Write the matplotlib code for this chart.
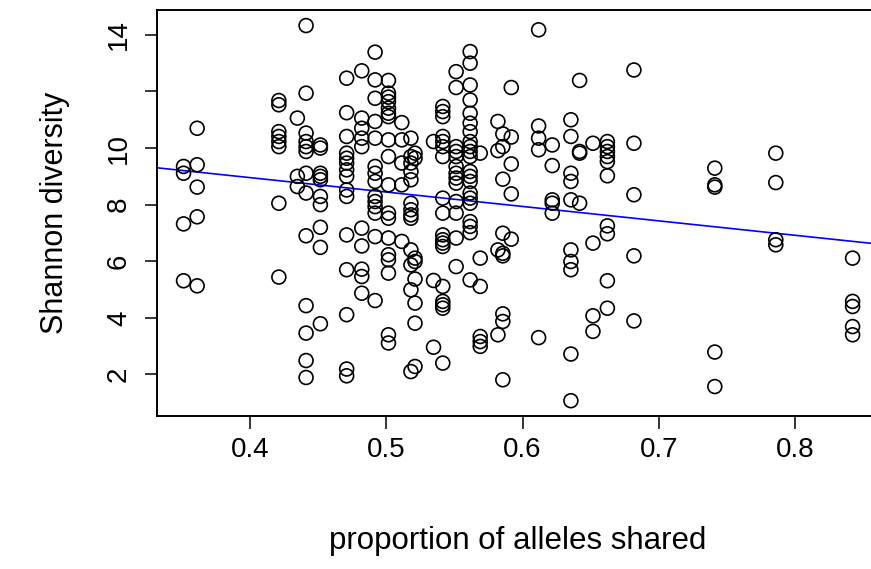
import numpy as np
import matplotlib
matplotlib.use("Agg")
import matplotlib.pyplot as plt

plt.rcParams['font.family'] = ['Liberation Sans', 'DejaVu Sans']

# ---------- data: proportion of alleles shared (columns) and Shannon diversity ----------
shared = [0.351, 0.361, 0.421, 0.4346, 0.441, 0.4515, 0.4708, 0.4819, 0.4917,
          0.5015, 0.5113, 0.518, 0.521, 0.5346, 0.5414, 0.5512, 0.5615, 0.5689,
          0.5819, 0.5855, 0.5917, 0.6118, 0.6218, 0.6355, 0.6419, 0.6517,
          0.6623, 0.6818, 0.7412, 0.786, 0.8424]

diversity = [
    [9.35, 9.11, 7.32, 5.31],
    [10.70, 9.41, 8.62, 7.57, 5.13],
    [11.68, 11.53, 10.58, 10.41, 10.23, 10.05, 8.05, 5.44],
    [11.06, 9.0, 8.64],
    [14.33, 11.94, 10.53, 10.23, 10.05, 9.88, 9.11, 8.41, 6.90, 4.43, 3.46, 2.49, 1.89],
    [10.11, 10.0, 9.11, 9.0, 8.88, 8.29, 8.0, 7.2, 6.49, 3.79],
    [12.47, 11.25, 10.41, 9.82, 9.64, 9.47, 9.23, 9.0, 8.52, 8.29, 6.93, 5.70, 4.11, 2.19, 1.95],
    [12.73, 11.06, 10.70, 10.35, 10.05, 7.17, 6.54, 5.72, 5.46, 4.87],
    [13.39, 12.41, 11.76, 10.94, 10.35, 9.35, 9.11, 8.82, 8.29, 8.11, 7.93, 7.70, 6.87, 4.61],
    [12.39, 11.94, 11.80, 11.64, 11.41, 11.23, 11.11, 10.29, 9.70, 8.70, 7.70, 7.52,
     6.82, 6.23, 6.05, 5.58, 3.40, 3.11],
    [10.90, 10.29, 9.47, 8.70, 6.70],
    [10.35, 9.70, 9.47, 9.17, 8.88, 8.05, 7.82, 7.64, 7.52, 6.40, 5.87, 4.99, 2.10],
    [9.82, 9.64, 6.11, 5.99, 5.37, 4.52, 3.81, 2.28],
    [10.23, 5.32, 2.96],
    [11.47, 11.29, 11.11, 10.41, 10.23, 10.05, 9.70, 8.23, 7.70, 6.93, 6.76, 6.64,
     6.52, 5.11, 4.58, 4.46, 4.34, 2.40],
    [12.70, 12.14, 10.05, 9.88, 9.70, 9.35, 9.11, 8.94, 8.76, 8.11, 7.70, 6.82, 5.81],
    [13.41, 13.0, 12.23, 11.70, 11.23, 10.88, 10.58, 10.23, 10.05, 9.88, 9.70, 9.17,
     9.0, 8.82, 8.41, 8.23, 8.05, 7.40, 7.23, 7.01, 5.34],
    [9.82, 6.11, 5.11, 3.34, 3.16, 2.99],
    [10.94, 9.91, 6.40, 3.40],
    [10.50, 10.05, 8.90, 6.99, 6.28, 6.19, 4.14, 3.87, 1.81],
    [12.14, 10.39, 9.44, 8.38, 6.78],
    [14.18, 10.78, 10.35, 9.94, 3.30],
    [10.11, 9.38, 8.17, 8.05, 7.70],
    [11.0, 10.41, 9.11, 8.82, 8.17, 6.40, 5.99, 5.70, 2.72, 1.07],
    [12.39, 9.88, 9.82, 8.05],
    [10.17, 6.64, 4.07, 3.52],
    [10.23, 10.05, 9.88, 9.70, 9.52, 9.02, 7.25, 6.97, 5.31, 4.34],
    [12.76, 10.17, 8.35, 6.19, 3.89],
    [9.29, 8.70, 8.62, 2.79, 1.57],
    [9.82, 8.78, 6.76, 6.58],
    [6.11, 4.58, 4.40, 3.69, 3.40],
]

# fitted line
fit_intercept = 10.99
fit_slope = -5.09

x_ticks = [0.4, 0.5, 0.6, 0.7, 0.8]
y_ticks = [2, 4, 6, 8, 10, 12, 14]
y_ticklabels = ['2', '4', '6', '8', '10', '', '14']

x = np.concatenate([[s] * len(d) for s, d in zip(shared, diversity)])
y = np.concatenate(diversity)

# ---------- plot ----------
fig = plt.figure(figsize=(8.71, 5.69), dpi=100)
ax = fig.add_axes([157 / 871, 1 - 415.7 / 569, 722 / 871, 405.7 / 569])

ax.scatter(x, y, s=100, facecolors='none', edgecolors='black', linewidths=1.2, zorder=3)
ax.axline((0, fit_intercept), slope=fit_slope, color='blue', lw=1.2, zorder=2)

ax.set_xlim(0.3315, 0.8618)
ax.set_ylim(0.54, 14.88)

ax.set_xticks(x_ticks)
ax.set_xticklabels([f'{t:.1f}' for t in x_ticks])
ax.set_yticks(y_ticks)
ax.set_yticklabels(y_ticklabels, rotation=90, va='center')

ax.tick_params(axis='both', direction='out', length=9, width=1.1, labelsize=20, colors='black')
ax.tick_params(axis='x', pad=6)
ax.tick_params(axis='y', pad=9)

for side in ['left', 'bottom', 'top', 'right']:
    ax.spines[side].set_linewidth(1.4)

ax.set_xlabel('proportion of alleles shared', fontsize=22.5)
ax.set_ylabel('Shannon diversity', fontsize=22)
ax.xaxis.label.set_va('center')
ax.yaxis.label.set_va('center')
ax.xaxis.set_label_coords(0.5, (415.7 - 541) / 405.7)
ax.yaxis.set_label_coords((55 - 157) / 722, 0.5)

fig.savefig('out.png', dpi=100)
